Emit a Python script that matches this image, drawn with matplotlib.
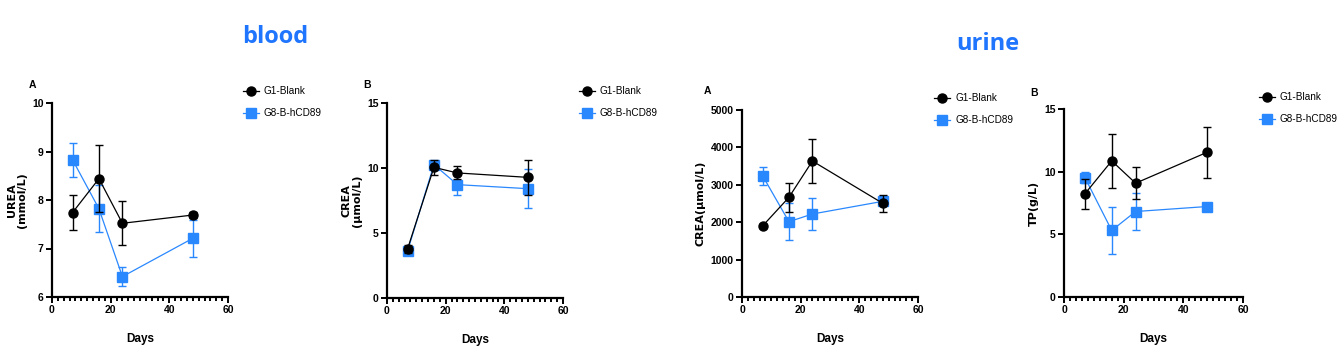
import matplotlib
matplotlib.use("Agg")
import matplotlib.pyplot as plt
from matplotlib.ticker import MultipleLocator
from matplotlib.lines import Line2D

plt.rcParams['font.family'] = ['Liberation Sans Narrow', 'Liberation Sans', 'DejaVu Sans']

days = [7, 16, 24, 48]
series_names = ["G1-Blank", "G8-B-hCD89"]

# blood UREA
urea_g1 = [7.74, 8.44, 7.52, 7.69]
urea_g1_err = [0.36, 0.69, 0.45, 0.07]
urea_g8 = [8.83, 7.82, 6.42, 7.21]
urea_g8_err = [0.35, 0.49, 0.20, 0.38]

# blood CREA
crea_b_g1 = [3.77, 10.05, 9.62, 9.28]
crea_b_g1_err = [0.3, 0.55, 0.5, 1.36]
crea_b_g8 = [3.6, 10.26, 8.72, 8.41]
crea_b_g8_err = [0.2, 0.3, 0.8, 1.5]

# urine CREA
crea_u_g1 = [1898, 2665, 3636, 2504]
crea_u_g1_err = [50, 380, 585, 225]
crea_u_g8 = [3244, 2014, 2219, 2558]
crea_u_g8_err = [240, 490, 415, 80]

# urine TP
tp_g1 = [8.23, 10.86, 9.08, 11.55]
tp_g1_err = [1.21, 2.16, 1.28, 2.03]
tp_g8 = [9.53, 5.31, 6.82, 7.22]
tp_g8_err = [0.45, 1.89, 1.50, 0.25]

W, H = 1338, 361
BLACK = '#000000'
BLUE = '#2a88ff'
TITLE_BLUE = '#1f75fe'

fig = plt.figure(figsize=(W / 100, H / 100), dpi=100)


def px_axes(x0, y0, x1, y1):
    return fig.add_axes([x0 / W, 1 - y1 / H, (x1 - x0) / W, (y1 - y0) / H])


panels = [
    dict(box=(52, 103, 228, 297), ylim=(6, 10), ystep=1, ylabel="UREA\n(mmol/L)",
         g1=urea_g1, g1e=urea_g1_err, g8=urea_g8, g8e=urea_g8_err,
         letter="A", letter_pos=(29, 85), leg=(243, 86)),
    dict(box=(387, 103, 563, 298), ylim=(0, 15), ystep=5, ylabel="CREA\n(μmol/L)",
         g1=crea_b_g1, g1e=crea_b_g1_err, g8=crea_b_g8, g8e=crea_b_g8_err,
         letter="B", letter_pos=(363, 85), leg=(579, 86)),
    dict(box=(742, 110, 918, 297), ylim=(0, 5000), ystep=1000, ylabel="CREA(μmol/L)",
         g1=crea_u_g1, g1e=crea_u_g1_err, g8=crea_u_g8, g8e=crea_u_g8_err,
         letter="A", letter_pos=(704, 91), leg=(934, 93)),
    dict(box=(1064, 109, 1243, 297), ylim=(0, 15), ystep=5, ylabel="TP(g/L)",
         g1=tp_g1, g1e=tp_g1_err, g8=tp_g8, g8e=tp_g8_err,
         letter="B", letter_pos=(1030, 93), leg=(1259, 92)),
]

for p in panels:
    ax = px_axes(*p['box'])
    ax.errorbar(days, p['g1'], yerr=p['g1e'], color=BLACK, marker='o', ms=6.5,
                lw=0.9, elinewidth=1.0, capsize=3, capthick=1.0, zorder=3)
    ax.errorbar(days, p['g8'], yerr=p['g8e'], color=BLUE, marker='s', ms=6.5,
                lw=0.9, elinewidth=1.0, capsize=3, capthick=1.0, zorder=2)
    ax.set_xlim(0, 60)
    ax.set_ylim(*p['ylim'])
    ax.xaxis.set_major_locator(MultipleLocator(20))
    ax.xaxis.set_minor_locator(MultipleLocator(2))
    ax.yaxis.set_major_locator(MultipleLocator(p['ystep']))
    for s in ['top', 'right']:
        ax.spines[s].set_visible(False)
    for s in ['left', 'bottom']:
        ax.spines[s].set_linewidth(1.6)
    ax.tick_params(axis='both', which='major', direction='out', length=4, width=1.4,
                   labelsize=7.5, pad=2)
    ax.tick_params(axis='x', which='minor', direction='out', length=3, width=1.4)
    for lab in ax.get_xticklabels() + ax.get_yticklabels():
        lab.set_fontweight('bold')
    ax.set_xlabel("Days", fontsize=8.5, fontweight='bold', labelpad=13)
    ax.set_ylabel(p['ylabel'], fontsize=8, fontweight='bold', labelpad=4,
                  linespacing=1.0, family=['DejaVu Sans'])
    fig.text(p['letter_pos'][0] / W, 1 - p['letter_pos'][1] / H, p['letter'],
             fontsize=7.5, fontweight='bold', ha='left', va='center',
             family=['Liberation Sans', 'DejaVu Sans'])
    handles = [
        Line2D([], [], color=BLACK, marker='o', ms=6.5, lw=0.9, label=series_names[0]),
        Line2D([], [], color=BLUE, marker='s', ms=6.5, lw=0.9, label=series_names[1]),
    ]
    fig.legend(handles=handles, loc='upper left',
               bbox_to_anchor=(p['leg'][0] / W, 1 - p['leg'][1] / H),
               frameon=False, handlelength=1.6, handletextpad=0.5,
               labelspacing=1.2, borderpad=0, borderaxespad=0,
               prop={'family': ['Liberation Sans', 'DejaVu Sans'], 'size': 7.2})

fig.text(275 / W, 1 - 37 / H, "blood", fontsize=17, fontweight='bold',
         color=TITLE_BLUE, ha='center', va='center', family=['Open Sans', 'DejaVu Sans'])
fig.text(988 / W, 1 - 44 / H, "urine", fontsize=17, fontweight='bold',
         color=TITLE_BLUE, ha='center', va='center', family=['Open Sans', 'DejaVu Sans'])

fig.savefig("out.png", dpi=100)
